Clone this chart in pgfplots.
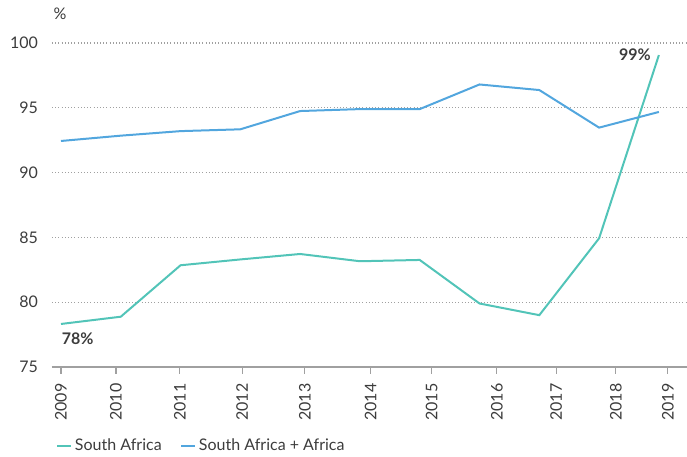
\documentclass[border=0pt]{standalone}
\usepackage{pgfplots}
\pgfplotsset{compat=1.18}
\usepackage{fontspec}
\setmainfont{Lato}

\definecolor{sateal}{RGB}{82,196,184}
\definecolor{sablue}{RGB}{82,166,222}
\definecolor{txtgray}{RGB}{60,60,60}
\definecolor{axgray}{RGB}{160,160,160}

\begin{document}
\begin{tikzpicture}[x=0.75pt,y=0.75pt]
\useasboundingbox (-52,-90) rectangle (635,367);
\begin{axis}[
    scale only axis,
    clip=false,
    width=476.25pt, height=243pt,
    xmin=-0.15, xmax=10.47,
    ymin=75, ymax=100,
    ytick={75,80,85,90,95,100},
    xtick={0,0.92,1.99,3.03,4.08,5.18,6.2,7.29,8.28,9.28,10.15},
    xticklabels={2009,2010,2011,2012,2013,2014,2015,2016,2017,2018,2019},
    axis x line*=bottom,
    axis y line*=left,
    y axis line style={draw=none},
    x axis line style={draw=axgray, line width=0.8pt, -},
    xtick style={draw=axgray, line width=0.8pt},
    ytick style={draw=none},
    major tick length=5pt,
    tick align=outside,
    ymajorgrids,
    major grid style={dotted, draw=axgray, line width=0.8pt},
    ticklabel style={font=\fontsize{12}{14}\selectfont, text=txtgray},
    xticklabel style={rotate=90, anchor=east, xshift=-4pt},
    yticklabel style={xshift=-2pt},
    /pgf/number format/assume math mode=true,
    legend style={at={(0,-0.205)}, anchor=north west, draw=none, fill=none,
        legend columns=2, font=\fontsize{12}{14}\selectfont, text=txtgray,
        /tikz/every even column/.append style={column sep=12pt}},
    legend cell align=left,
    legend image code/.code={\draw[#1, line width=1.5pt] (0pt,0pt) -- (10.5pt,0pt);},
]
\addplot[sateal, line width=1.5pt] coordinates {
 (0,78.32) (1,78.88) (2,82.85) (3,83.3) (4,83.72) (5,83.16) (6,83.26) (7,79.9) (8,79.0) (9,84.93) (10,99.07)
};
\addlegendentry{South Africa}
\addplot[sablue, line width=1.5pt] coordinates {
 (0,92.44) (1,92.85) (2,93.2) (3,93.34) (4,94.75) (5,94.9) (6,94.9) (7,96.8) (8,96.37) (9,93.47) (10,94.68)
};
\addlegendentry{South Africa + Africa}
% y-axis unit and value callouts
\node[anchor=base west, text=txtgray, font=\fontsize{12}{14}\selectfont] at (rel axis cs:-0.005,1.071) {\%};
\node[text=txtgray, font=\bfseries\fontsize{12}{14}\selectfont] at (axis cs:0.28,77.16) {78\%};
\node[text=txtgray, font=\bfseries\fontsize{12}{14}\selectfont] at (axis cs:9.6,99.07) {99\%};
\end{axis}
\end{tikzpicture}
\end{document}
